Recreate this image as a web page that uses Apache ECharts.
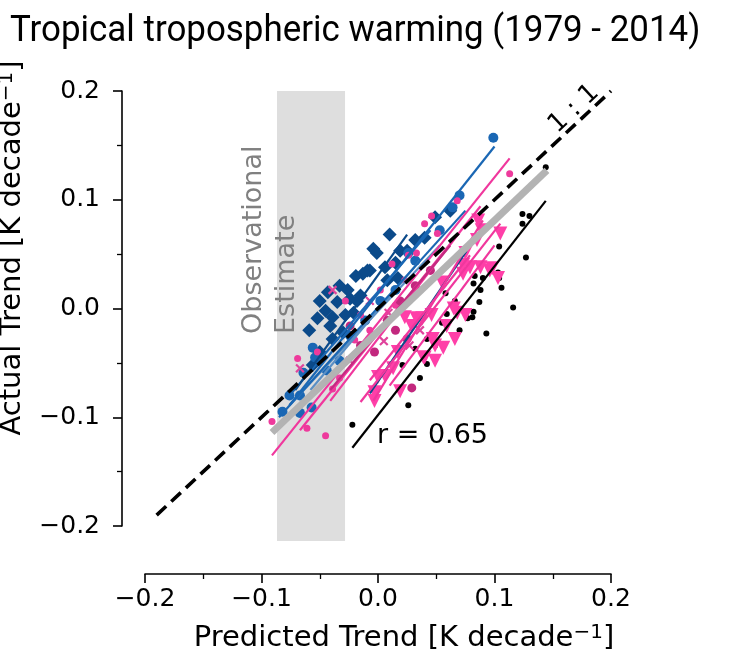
<!DOCTYPE html>
<html><head><meta charset="utf-8">
<script src="https://cdn.jsdelivr.net/npm/echarts@6/dist/echarts.min.js"></script>
<style>html,body{margin:0;padding:0;background:#fff}#c{width:730px;height:655px}</style>
</head><body><div id="c"></div>
<script>
// ---- data (K/decade) ----
const axisMin = -0.2, axisMax = 0.2, tickStep = 0.1;
const obsBand = [-0.0867, -0.0283];
const oneToOne = [-0.19, 0.2];
const blackFit = [-0.022, -0.128, 0.144, 0.099];
const grayFit = [-0.091, -0.114, 0.145, 0.127];
const blueFits = [
  [0.100, 0.149, -0.076, -0.089],
  [0.075, 0.090, -0.085, -0.100],
  [0.045, 0.072, -0.076, -0.080]
];
const steelBlueFits = [
  [0.053, 0.058, -0.076, -0.089],
  [0.036, 0.044, -0.058, -0.075]
];
const darkBlueFits = [
  [0.025, 0.068, -0.071, -0.075],
  [0.076, 0.053, -0.007, -0.078]
];
const pinkFits = [
  [0.113, 0.138, -0.091, -0.135],
  [0.105, 0.078, -0.015, -0.086],
  [0.090, 0.081, -0.004, -0.085],
  [0.070, 0.070, -0.041, -0.085],
  [0.088, 0.094, -0.067, -0.112],
  [0.100, 0.058, 0.010, -0.071],
  [0.079, 0.049, -0.007, -0.066]
];
const magentaFits = [
  [0.062, 0.058, -0.041, -0.075]
];
const blackDots = [
  [0.144,0.130],[0.124,0.087],[0.130,0.085],[0.124,0.078],[0.104,0.057],[0.127,0.047],
  [0.083,0.030],[0.090,0.028],[0.103,0.033],[0.104,0.028],[0.082,0.023],[0.106,0.019],
  [0.088,0.017],[0.087,0.006],[0.116,0.001],[0.082,-0.003],[0.081,-0.008],[0.077,-0.009],
  [0.093,-0.023],[0.058,0.014],[0.059,-0.005],[0.042,-0.028],[0.049,-0.034],[0.032,-0.037],
  [0.042,-0.051],[0.021,-0.052],[0.036,-0.064],[0.026,-0.089],[-0.022,-0.107],[0.055,-0.013],
  [0.066,0.007],[0.070,-0.020]
];
const pinkTriangles = [
  [0.086,0.081],[0.089,0.072],[0.105,0.069],[0.085,0.063],[0.075,0.051],[0.079,0.038],
  [0.088,0.038],[0.098,0.037],[0.103,0.028],[0.073,0.032],[0.065,0.000],[0.059,-0.016],
  [0.066,-0.028],[0.049,-0.034],[0.056,-0.036],[0.040,-0.045],[0.049,-0.048],[0.038,-0.009],
  [0.029,-0.016],[0.023,-0.008],[0.046,-0.006],[-0.003,-0.077],[-0.003,-0.085],[0.013,-0.055],
  [0.006,-0.062],[0.017,-0.040],[0.073,0.040],[0.096,0.035],[0.055,0.024],[0.068,-0.004],
  [0.075,-0.006],[0.033,-0.009],[0.047,-0.028],[0.039,-0.045],[0.000,-0.063],[0.019,-0.076]
];
const darkBlueDiamonds = [
  [0.010,0.068],[-0.004,0.055],[-0.013,0.032],[-0.007,0.035],[0.006,0.038],[0.025,0.053],
  [0.008,0.026],[0.017,0.028],[0.062,0.090],[0.049,0.084],[0.040,0.065],[-0.035,0.006],
  [-0.015,0.012],[-0.021,-0.004],[-0.041,-0.016],[-0.030,-0.022],[-0.050,-0.040],[-0.056,-0.052],
  [-0.039,-0.028],[-0.024,0.009],[-0.009,0.035],[-0.001,0.051],[-0.018,0.007],[-0.039,-0.008],
  [0.019,0.053],[-0.028,-0.006],[-0.045,-0.002],[-0.050,0.007],[-0.043,0.015],[-0.033,0.021],
  [-0.026,0.017],[-0.052,-0.009],[-0.059,-0.020],[-0.019,0.030],[0.015,0.042],[0.032,0.063]
];
const blueCircles = [
  [0.099,0.157],[-0.082,-0.095],[-0.067,-0.096],[-0.057,-0.091],[-0.064,-0.059],[-0.054,-0.045],
  [-0.056,-0.036],[-0.033,-0.048],[-0.044,-0.057],[0.064,0.093],[0.026,0.051],[0.032,0.044],
  [0.053,0.072],[0.002,0.007],[0.015,0.017],[-0.011,-0.011],[-0.024,-0.025],[-0.076,-0.080],
  [0.070,0.104],[-0.067,-0.080]
];
const pinkDots = [
  [0.068,0.099],[0.046,0.085],[0.040,0.078],[0.051,0.069],[0.033,0.051],[0.026,0.049],
  [0.012,0.041],[0.113,0.124],[-0.069,-0.046],[-0.091,-0.104],[-0.061,-0.110],[-0.045,-0.117],
  [-0.052,-0.040],[-0.039,-0.074],[-0.033,-0.064],[-0.015,-0.006],[0.002,0.017],[0.015,0.003],
  [-0.020,-0.029],[-0.007,-0.020],[0.023,0.026],[-0.028,0.007]
];
const pinkCrosses = [
  [-0.039,0.017],[-0.007,0.007],[0.009,-0.004],[0.027,-0.034],[-0.024,-0.048],[0.036,-0.020],
  [-0.067,-0.055],[0.005,-0.030]
];
const magentaDots = [
  [0.029,-0.073],[0.025,-0.028],[-0.003,-0.040],[0.008,-0.011],[0.019,0.007],[0.032,0.021],
  [-0.015,-0.034],[-0.024,-0.016],[0.045,0.035],[0.015,-0.020]
];

// ---- chart ----
const fmt = v => (v < -1e-9 ? '\u2212' : '') + Math.abs(v).toFixed(1);
const font = "'DejaVu Sans', sans-serif";
function fitSeries(arr, color, width, z) {
  return arr.map(f => ({
    type: 'line', xAxisIndex: 0, yAxisIndex: 0, data: [[f[0], f[1]], [f[2], f[3]]],
    symbol: 'none', lineStyle: { color: color, width: width }, z: z, silent: true, clip: false
  }));
}
function scatter(data, color, symbol, size, z, rot) {
  return { type: 'scatter', xAxisIndex: 0, yAxisIndex: 0, data: data, symbol: symbol,
    symbolSize: size, symbolRotate: rot || 0, itemStyle: { color: color, opacity: 1 }, z: z, silent: true, clip: false };
}
const chart = echarts.init(document.getElementById('c'), null, { renderer: 'canvas' });
const axisCommon = {
  type: 'value', min: axisMin, max: axisMax, interval: tickStep,
  splitLine: { show: false },
  axisLine: { show: true, onZero: false, lineStyle: { color: '#000', width: 1.6 } },
  axisTick: { show: true, length: 9, lineStyle: { color: '#000', width: 1.6 } },
  minorTick: { show: true, splitNumber: 2, length: 5, lineStyle: { color: '#000', width: 1.3 } },
  axisLabel: { formatter: fmt, color: '#000', fontFamily: font, fontSize: 25 }
};
const plusPath = 'path://M4,0h2v4h4v2h-4v4h-2v-4h-4v-2h4z';
const series = [
  { type: 'line', xAxisIndex: 1, yAxisIndex: 1, data: [], symbol: 'none', silent: true, z: 1,
    markArea: { silent: true, itemStyle: { color: '#dedede' },
      data: [[{ xAxis: obsBand[0], yAxis: 'min' }, { xAxis: obsBand[1], yAxis: 'max' }]] } },
  scatter(blackDots, '#000', 'circle', 6, 3),
  scatter(darkBlueDiamonds, '#0b4a8a', 'diamond', 14, 3),
  scatter(blueCircles, '#1a67b4', 'circle', 10, 3),
  scatter(pinkDots, '#ee3a9c', 'circle', 7, 3),
  scatter(pinkCrosses, '#e0449c', plusPath, 11, 3, 45),
  scatter(magentaDots, '#c2287e', 'circle', 9, 3),
  scatter(pinkTriangles, '#ff3fa8', 'triangle', 14, 3, 180),
  ...fitSeries(steelBlueFits, '#5a8fc4', 2.2, 4),
  ...fitSeries(blueFits, '#1a67b4', 2.2, 4),
  ...fitSeries(darkBlueFits, '#0b4a8a', 2.2, 4),
  ...fitSeries(pinkFits, '#f0379d', 2.2, 4),
  ...fitSeries(magentaFits, '#c42a80', 2.2, 4),
  ...fitSeries([grayFit], '#b3b3b3', 7, 5),
  ...fitSeries([blackFit], '#000', 2.2, 5),
  { type: 'line', xAxisIndex: 0, yAxisIndex: 0, data: [[oneToOne[0], oneToOne[0]], [oneToOne[1], oneToOne[1]]],
    symbol: 'none', lineStyle: { color: '#000', width: 3.6, type: [13, 7] }, z: 6, silent: true, clip: false }
];
chart.setOption({
  animation: false,
  backgroundColor: '#fff',
  grid: [
    { left: 145, right: 119, top: 91, height: 435 },
    { left: 145, right: 119, top: 91, height: 450 }
  ],
  xAxis: [
    Object.assign({}, axisCommon, { gridIndex: 0, offset: 48, axisLabel: Object.assign({}, axisCommon.axisLabel, { margin: 13 }) }),
    { type: 'value', gridIndex: 1, min: axisMin, max: axisMax, show: false }
  ],
  yAxis: [
    Object.assign({}, axisCommon, { gridIndex: 0, offset: 23, axisLabel: Object.assign({}, axisCommon.axisLabel, { margin: 22 }) }),
    { type: 'value', gridIndex: 1, min: -0.2136, max: axisMax, show: false }
  ],
  series: series,
  graphic: [
    { type: 'text', x: 10, y: 32, scaleX: 0.97, style: { text: 'Tropical tropospheric warming (1979 - 2014)', fontFamily: 'Roboto', fontSize: 36, fill: '#000', verticalAlign: 'middle' } },
    { type: 'text', x: 12, y: 248, rotation: Math.PI / 2, style: { text: 'Actual Trend [K decade{s|\u22121}]', fontFamily: font, fontSize: 29, fill: '#000', align: 'center', verticalAlign: 'middle',
        rich: { s: { fontFamily: font, fontSize: 20, verticalAlign: 'top', padding: [0, 0, 11, 0] } } } },
    { type: 'text', x: 404, y: 638, style: { text: 'Predicted Trend [K decade{s|\u22121}]', fontFamily: font, fontSize: 29, fill: '#000', align: 'center', verticalAlign: 'middle',
        rich: { s: { fontFamily: font, fontSize: 20, verticalAlign: 'top', padding: [0, 0, 11, 0] } } } },
    { type: 'text', x: 254, y: 334, rotation: Math.PI / 2, z: 10, style: { text: 'Observational', fontFamily: font, fontSize: 27, fill: '#808080', align: 'left', verticalAlign: 'middle' } },
    { type: 'text', x: 287, y: 334, rotation: Math.PI / 2, z: 10, style: { text: 'Estimate', fontFamily: font, fontSize: 27, fill: '#808080', align: 'left', verticalAlign: 'middle' } },
    { type: 'text', x: 574, y: 109, rotation: 43 * Math.PI / 180, z: 10, style: { text: '1 : 1', fontFamily: font, fontSize: 26, fill: '#000', align: 'center', verticalAlign: 'middle' } },
    { type: 'text', x: 377, y: 436, z: 10, style: { text: 'r = 0.65', fontFamily: font, fontSize: 27, fill: '#000', align: 'left', verticalAlign: 'middle' } }
  ]
});
</script></body></html>
